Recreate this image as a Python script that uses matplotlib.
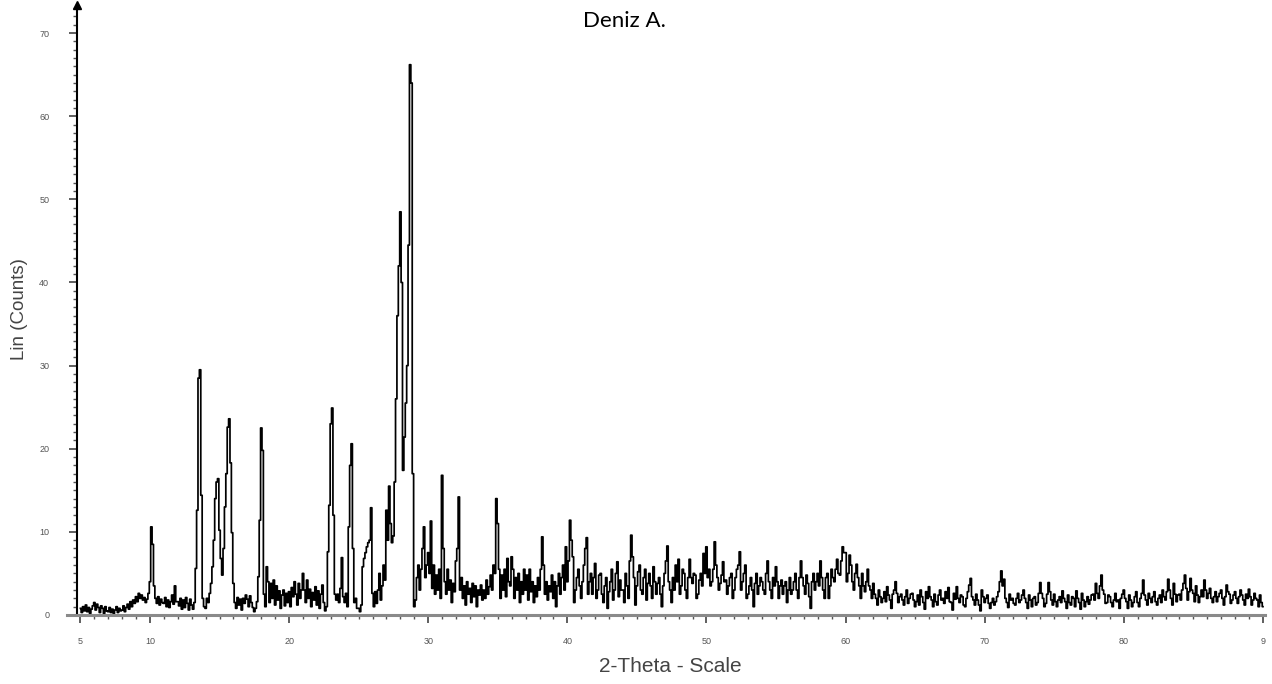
import numpy as np
import matplotlib
matplotlib.use('Agg')
from matplotlib import pyplot as plt
from matplotlib.ticker import MultipleLocator, FixedLocator

# diffractogram in 0.1 deg steps: 5.0 - 39.9 deg
counts_low = [
    0.8, 0.3, 1.0, 0.5, 1.2, 0.4, 0.9, 0.2, 0.7, 1.1,
    1.5, 0.6, 1.3, 0.9, 0.3, 1.1, 0.8, 0.2, 1.0, 0.5,
    0.4, 0.9, 0.3, 0.7, 0.2, 0.6, 1.0, 0.3, 0.8, 0.5,
    0.6, 1.1, 0.4, 0.9, 1.3, 0.7, 1.6, 1.0, 1.8, 1.4,
    2.2, 1.6, 2.6, 2.0, 2.4, 1.8, 2.1, 1.5, 1.9, 2.6,
    4.0, 10.6, 8.5, 3.5, 2.0, 1.4, 2.2, 1.2, 1.9, 1.5,
    1.4, 2.1, 1.0, 1.8, 0.9, 1.6, 2.4, 1.3, 3.5, 1.6,
    1.6, 1.1, 2.0, 0.7, 1.8, 0.9, 2.1, 1.4, 0.6, 1.9,
    1.2, 0.7, 1.5, 5.6, 12.6, 28.5, 29.5, 14.4, 2.0, 1.0,
    0.8, 2.0, 1.5, 2.6, 3.8, 5.8, 9.0, 14.0, 16.0, 16.4,
    10.2, 6.8, 4.8, 8.0, 13.0, 17.0, 22.6, 23.6, 18.3, 9.9,
    3.8, 1.5, 0.8, 2.1, 1.2, 1.9, 0.6, 2.0, 1.4, 2.4,
    1.9, 1.0, 2.3, 1.5, 0.9, 0.4, 0.8, 1.6, 4.6, 11.4,
    22.5, 19.8, 2.5, 1.0, 5.8, 4.0, 1.5, 3.8, 2.0, 4.2,
    1.2, 3.5, 1.8, 2.9, 0.8, 2.4, 3.0, 1.1, 2.6, 1.5,
    2.8, 1.0, 3.3, 2.2, 4.0, 2.5, 1.2, 3.8, 2.0, 3.0,
    5.0, 3.0, 1.5, 4.2, 2.0, 3.1, 1.0, 2.7, 1.8, 3.4,
    1.2, 2.9, 0.8, 2.5, 3.6, 1.5, 0.5, 1.0, 7.6, 13.2,
    23.0, 24.9, 12.0, 2.5, 1.8, 2.5, 1.5, 3.2, 6.9, 2.2,
    1.5, 2.6, 1.0, 10.6, 18.0, 20.6, 8.0, 1.5, 2.0, 0.8,
    0.8, 0.4, 1.2, 5.8, 6.8, 7.5, 8.2, 8.7, 9.0, 12.9,
    2.6, 1.0, 2.8, 1.4, 3.0, 5.0, 1.8, 3.5, 6.0, 4.2,
    12.6, 9.0, 15.5, 11.0, 8.7, 9.5, 16.0, 26.0, 36.0, 42.0,
    48.5, 40.0, 17.4, 21.4, 25.5, 30.0, 44.5, 66.2, 64.0, 17.0,
    1.0, 1.8, 4.5, 6.0, 3.0, 5.5, 8.0, 10.6, 4.5, 6.0,
    7.5, 5.0, 11.3, 3.2, 6.0, 2.5, 4.8, 3.0, 5.5, 2.0,
    16.8, 8.0, 4.0, 2.5, 5.5, 3.0, 4.2, 1.5, 3.8, 2.8,
    6.5, 8.0, 14.2, 3.0, 4.5, 2.0, 3.5, 1.2, 4.0, 2.5,
    3.2, 1.5, 3.8, 2.2, 3.5, 1.0, 3.0, 2.4, 3.6, 1.8,
    3.0, 2.0, 4.2, 2.5, 3.4, 4.8, 3.0, 6.0, 5.0, 14.0,
    11.0, 5.5, 2.0, 4.8, 3.0, 5.5, 2.2, 6.8, 4.0, 3.5,
    7.0, 5.5, 2.0, 4.5, 3.0, 5.0, 1.5, 4.0, 2.5, 5.5,
    3.0, 4.8, 1.8, 5.5, 2.8, 4.0, 1.5, 3.5, 2.2, 4.5,
    3.0, 5.5, 9.4, 6.0, 2.5, 4.0, 1.8, 3.5, 2.8, 4.8,
    2.0, 4.0, 1.0, 3.5, 5.0, 2.5, 4.5, 6.0, 3.0, 8.2,
]

# 40.0 - 61.9 deg
counts_mid = [
    4.0, 6.5, 11.4, 9.0, 7.0, 1.5, 3.0, 4.5, 5.5, 3.5,
    2.0, 4.0, 6.0, 8.0, 9.3, 2.5, 4.0, 5.0, 2.5, 4.5,
    6.2, 2.0, 3.0, 4.8, 5.0, 2.5, 1.5, 3.5, 4.5, 0.8,
    2.8, 4.0, 5.5, 1.8, 3.0, 5.0, 6.4, 2.2, 4.2, 3.0,
    3.0, 1.5, 5.0, 3.5, 2.0, 6.5, 9.6, 7.0, 4.5, 1.2,
    3.5, 5.2, 6.0, 3.0, 2.5, 4.5, 5.5, 1.8, 3.8, 5.0,
    3.5, 2.0, 5.8, 4.0, 2.5, 3.8, 4.5, 2.5, 1.0, 3.5,
    5.0, 6.5, 8.3, 4.0, 3.0, 1.5, 4.5, 3.0, 6.0, 4.0,
    6.7, 2.5, 3.5, 5.5, 5.0, 3.0, 2.0, 4.5, 6.7, 4.5,
    3.8, 5.0, 4.8, 2.0, 2.5, 4.2, 5.0, 3.5, 7.4, 5.0,
    8.2, 4.5, 5.5, 3.5, 4.0, 5.5, 8.8, 6.0, 4.5, 3.0,
    3.8, 4.8, 6.4, 4.0, 4.2, 2.5, 3.5, 4.5, 5.0, 2.0,
    3.0, 4.5, 5.5, 6.0, 7.6, 3.0, 4.0, 5.0, 6.0, 2.0,
    2.5, 3.5, 4.5, 3.0, 1.0, 3.8, 5.0, 2.5, 3.5, 4.5,
    4.0, 3.0, 2.5, 5.0, 6.5, 4.0, 3.0, 2.0, 4.5, 3.5,
    5.8, 4.0, 2.0, 3.5, 4.2, 2.5, 3.5, 4.0, 1.5, 3.0,
    4.5, 2.5, 3.0, 4.0, 5.0, 3.0, 2.0, 4.5, 6.5, 4.5,
    3.5, 2.5, 4.8, 3.8, 2.2, 0.8, 4.0, 5.0, 3.0, 4.0,
    5.0, 3.5, 6.5, 4.5, 3.0, 2.0, 4.5, 5.0, 2.0, 3.5,
    5.5, 4.5, 4.0, 5.5, 6.7, 5.0, 4.8, 6.5, 8.2, 7.5,
    7.5, 4.0, 5.0, 7.2, 6.0, 4.0, 3.0, 5.0, 6.1, 4.5,
    3.5, 2.0, 5.0, 3.5, 2.8, 4.0, 5.5, 3.5, 3.0, 2.0,
]

# 62.0 - 90.0 deg
counts_tail = [
    3.8, 2.5, 2.0, 1.2, 3.0, 2.2, 1.5, 2.0, 2.8, 1.6,
    3.4, 2.4, 1.8, 0.8, 2.5, 3.0, 4.0, 2.6, 1.5, 2.2,
    2.5, 1.8, 1.2, 2.2, 3.0, 1.4, 2.0, 2.5, 2.6, 1.8,
    1.0, 1.6, 2.4, 1.2, 3.0, 2.2, 1.5, 0.7, 2.8, 2.0,
    3.4, 2.2, 1.8, 1.0, 2.5, 1.6, 1.2, 2.4, 3.0, 1.8,
    2.0, 1.4, 2.8, 2.0, 3.3, 1.6, 1.5, 0.6, 2.6, 1.9,
    3.4, 2.0, 1.5, 2.4, 2.2, 1.2, 1.0, 2.0, 2.8, 3.6,
    4.4, 2.2, 1.8, 1.2, 2.5, 1.8, 1.2, 0.5, 3.0, 2.2,
    1.5, 2.0, 2.4, 1.4, 0.8, 1.5, 2.0, 1.2, 1.6, 2.2,
    2.8, 4.0, 5.3, 3.5, 4.3, 2.0, 1.5, 0.9, 2.5, 1.8,
    2.0, 1.4, 1.2, 2.0, 2.6, 1.5, 1.8, 2.4, 3.0, 2.0,
    1.5, 0.8, 2.4, 1.8, 1.0, 2.0, 2.2, 1.2, 1.5, 2.6,
    3.9, 2.6, 2.0, 1.0, 1.4, 2.5, 3.9, 2.8, 1.8, 1.2,
    2.5, 1.6, 1.0, 1.8, 2.2, 1.5, 2.9, 2.0, 1.6, 0.8,
    2.4, 1.5, 1.2, 2.2, 2.0, 1.0, 2.9, 2.0, 1.5, 0.7,
    2.6, 1.8, 1.0, 1.6, 2.2, 1.3, 1.8, 2.4, 2.5, 1.8,
    3.8, 2.6, 2.0, 3.5, 4.8, 3.0, 2.5, 1.4, 1.5, 2.4,
    2.2, 1.5, 1.0, 1.8, 2.6, 1.6, 1.8, 0.8, 2.0, 2.5,
    3.0, 2.0, 1.6, 0.8, 2.4, 1.8, 1.0, 1.5, 2.2, 2.8,
    1.5, 1.0, 2.0, 2.6, 4.2, 2.4, 1.8, 1.2, 2.6, 2.0,
    1.5, 2.2, 2.8, 1.6, 1.2, 2.0, 2.4, 1.5, 3.0, 2.2,
    1.8, 2.8, 4.3, 3.0, 2.0, 1.2, 3.8, 2.5, 1.6, 2.4,
    2.5, 1.8, 3.0, 3.8, 4.8, 3.2, 1.8, 2.8, 4.4, 3.0,
    2.6, 1.6, 3.5, 2.4, 1.5, 2.2, 3.0, 2.2, 4.2, 3.0,
    2.0, 2.6, 3.2, 2.0, 1.5, 2.2, 2.8, 1.6, 2.2, 2.6,
    3.0, 2.0, 1.2, 2.2, 3.6, 2.8, 2.5, 1.4, 1.8, 2.4,
    2.8, 2.0, 1.4, 2.2, 3.0, 2.4, 1.8, 1.2, 2.5, 2.0,
    3.1, 2.2, 1.2, 1.8, 2.6, 2.0, 1.8, 1.0, 2.4, 1.5,
    1.0,
]

x_ticks = [5, 10, 20, 30, 40, 50, 60, 70, 80, 90]
x_tick_labels = ['5', '10', '20', '30', '40', '50', '60', '70', '80', '9']
y_ticks = [0, 10, 20, 30, 40, 50, 60, 70]

counts = np.concatenate([counts_low, counts_mid, counts_tail])
two_theta = 5.0 + 0.1 * np.arange(len(counts))

plt.rcParams['font.family'] = ['Liberation Sans', 'DejaVu Sans']

fig = plt.figure(figsize=(12.72, 6.84), dpi=100)
ax = fig.add_axes([0.0605, 0.1009, 0.934, 0.892])

ax.plot(two_theta, counts, color='black', lw=1.25, drawstyle='steps-mid')

ax.set_xlim(4.75, 90.15)
ax.set_ylim(0, 73.4)

for s in ['top', 'right']:
    ax.spines[s].set_visible(False)
ax.spines['left'].set_color('black')
ax.spines['left'].set_linewidth(1.5)
ax.spines['bottom'].set_visible(False)
# grey baseline, slightly past the y axis
ax.plot([-0.008, 1.0], [0, 0], color='#8a8a8a', lw=2.2,
        transform=ax.get_yaxis_transform(), clip_on=False, zorder=3)
# arrow head on top of the y axis
ax.plot([4.75], [73.4], marker='^', color='black', ms=6, clip_on=False)

ax.xaxis.set_major_locator(FixedLocator(x_ticks))
ax.set_xticklabels(x_tick_labels)
ax.xaxis.set_minor_locator(MultipleLocator(1))
ax.yaxis.set_major_locator(FixedLocator(y_ticks))
ax.yaxis.set_minor_locator(MultipleLocator(1))

ax.tick_params(axis='x', which='major', direction='out', length=6, width=1.2,
               color='#444444', labelsize=6.5, labelcolor='#555555', pad=10)
ax.tick_params(axis='x', which='minor', direction='out', length=3, width=1,
               color='#555555')
ax.tick_params(axis='y', which='major', direction='out', length=6, width=1.2,
               color='#444444', labelsize=6.5, labelcolor='#555555', pad=14)
ax.tick_params(axis='y', which='minor', direction='out', length=3, width=1,
               color='#555555')

fig.text(0.527, 0.025, '2-Theta - Scale', fontsize=15, color='#444444',
         ha='center', va='center')
fig.text(0.015, 0.548, 'Lin (Counts)', rotation=90, fontsize=13.5,
         color='#444444', ha='center', va='center')
fig.text(0.491, 0.970, 'Deniz A.', fontsize=16, color='black',
         family=['Lato', 'DejaVu Sans'], ha='center', va='center')

fig.savefig('out.png', dpi=100)
